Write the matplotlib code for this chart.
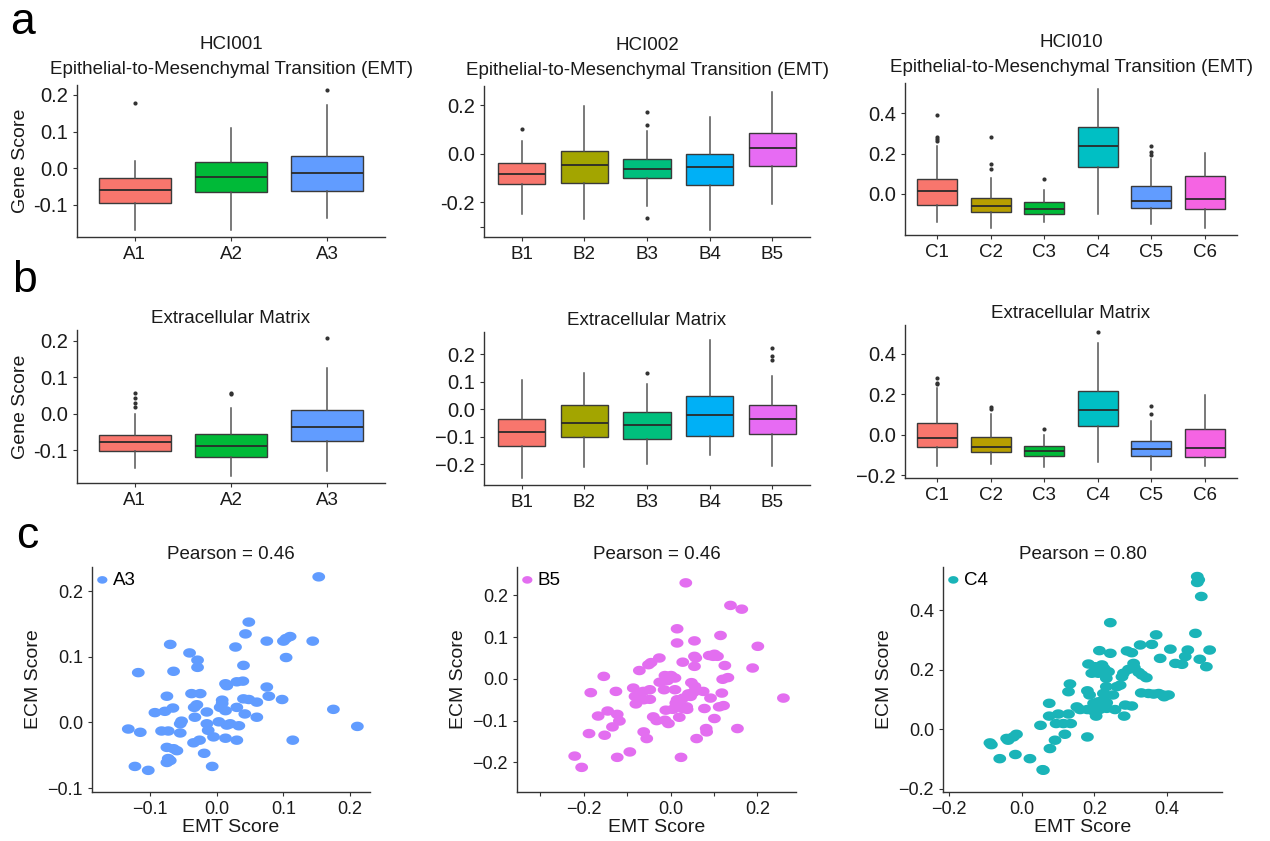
import numpy as np
import matplotlib
matplotlib.use("Agg")
import matplotlib.pyplot as plt

plt.rcParams['font.family'] = ['Liberation Sans', 'DejaVu Sans']

W, H = 1270, 841

# ---- box data: each row is [whisker low, q1, median, q3, whisker high] ----
emt_a_labels = ["A1", "A2", "A3"]
emt_a_box = [[-0.168, -0.094, -0.059, -0.027, 0.020],
             [-0.168, -0.065, -0.023, 0.016, 0.109],
             [-0.136, -0.062, -0.014, 0.034, 0.173]]
emt_a_out = [[0.177], [], [0.212]]

emt_b_labels = ["B1", "B2", "B3", "B4", "B5"]
emt_b_box = [[-0.247, -0.124, -0.083, -0.038, 0.053],
             [-0.266, -0.120, -0.045, 0.012, 0.197],
             [-0.216, -0.100, -0.063, -0.020, 0.094],
             [-0.314, -0.127, -0.055, 0.000, 0.153],
             [-0.205, -0.048, 0.023, 0.085, 0.253]]
emt_b_out = [[0.101], [], [0.173, 0.119, -0.264], [], []]

emt_c_labels = ["C1", "C2", "C3", "C4", "C5", "C6"]
emt_c_box = [[-0.137, -0.055, 0.015, 0.073, 0.235],
             [-0.170, -0.091, -0.058, -0.021, 0.078],
             [-0.137, -0.101, -0.074, -0.041, 0.020],
             [-0.099, 0.132, 0.238, 0.331, 0.519],
             [-0.150, -0.068, -0.035, 0.040, 0.174],
             [-0.167, -0.076, -0.025, 0.089, 0.205]]
emt_c_out = [[0.392, 0.284, 0.271, 0.260], [0.284, 0.149, 0.122], [0.073],
             [], [0.238, 0.207, 0.193], []]

ecm_a_box = [[-0.148, -0.101, -0.078, -0.057, 0.000],
             [-0.171, -0.119, -0.089, -0.055, 0.015],
             [-0.155, -0.074, -0.035, 0.011, 0.126]]
ecm_a_out = [[0.057, 0.044, 0.030, 0.018], [0.056, 0.054], [0.206]]

ecm_b_box = [[-0.252, -0.135, -0.082, -0.034, 0.105],
             [-0.212, -0.100, -0.052, 0.015, 0.133],
             [-0.200, -0.107, -0.058, -0.012, 0.091],
             [-0.168, -0.097, -0.022, 0.047, 0.253],
             [-0.206, -0.092, -0.034, 0.017, 0.120]]
ecm_b_out = [[], [], [0.133], [], [0.224, 0.193, 0.180]]

ecm_c_box = [[-0.156, -0.061, -0.016, 0.057, 0.230],
             [-0.143, -0.087, -0.061, -0.011, 0.103],
             [-0.161, -0.107, -0.082, -0.057, 0.000],
             [-0.134, 0.044, 0.123, 0.218, 0.451],
             [-0.175, -0.107, -0.070, -0.033, 0.070],
             [-0.156, -0.111, -0.066, 0.028, 0.197]]
ecm_c_out = [[0.282, 0.257, 0.249], [0.139, 0.126], [0.028], [0.505],
             [0.143, 0.102], []]

col3 = ["#F8766D", "#00BA38", "#619CFF"]
col5 = ["#F8766D", "#A3A500", "#00BF7D", "#00B0F6", "#E76BF3"]
col6 = ["#F8766D", "#B79F00", "#00BA38", "#00BFC4", "#619CFF", "#F564E3"]

# ---- scatter data (EMT score, ECM score) ----
a3_emt = [0.153, 0.048, 0.043, 0.075, 0.100, 0.110, 0.104, 0.144, -0.070, 0.028,
          -0.041, -0.029, -0.029, 0.040, 0.104, -0.118, -0.065, 0.013, 0.015, 0.030,
          0.039, 0.075, -0.075, -0.038, -0.025, 0.008, 0.040, 0.048, 0.060, 0.078,
          0.098, -0.093, -0.078, -0.066, -0.034, -0.030, -0.015, 0.005, 0.008, 0.013,
          0.030, 0.042, 0.060, 0.175, 0.211, -0.133, -0.115, -0.083, -0.073, -0.055,
          -0.053, -0.055, -0.033, -0.015, -0.013, 0.003, 0.015, 0.020, 0.033, -0.005,
          0.013, 0.030, 0.114, -0.035, -0.026, -0.075, -0.060, -0.065, -0.019, -0.073,
          -0.070, -0.075, -0.123, -0.103, -0.007]
a3_ecm = [0.222, 0.153, 0.135, 0.124, 0.124, 0.131, 0.128, 0.124, 0.119, 0.115,
          0.106, 0.095, 0.084, 0.087, 0.099, 0.076, 0.078, 0.059, 0.056, 0.062,
          0.063, 0.054, 0.040, 0.044, 0.044, 0.034, 0.036, 0.035, 0.031, 0.040,
          0.035, 0.015, 0.017, 0.022, 0.023, 0.027, 0.016, 0.023, 0.029, 0.018,
          0.023, 0.013, 0.008, 0.020, -0.006, -0.010, -0.015, -0.013, -0.013, -0.002,
          0.002, -0.016, 0.008, -0.002, -0.012, 0.001, -0.004, -0.002, -0.005, -0.022,
          -0.024, -0.027, -0.027, -0.031, -0.027, -0.038, -0.043, -0.040, -0.047, -0.055,
          -0.058, -0.061, -0.067, -0.073, -0.067]

b5_emt = [0.035, 0.138, 0.164, 0.015, 0.015, 0.055, 0.115, 0.201, -0.026, -0.045,
          -0.051, -0.072, 0.028, 0.055, 0.058, 0.055, 0.089, 0.101, 0.108, 0.098,
          0.125, 0.189, -0.154, -0.013, 0.001, 0.010, -0.025, -0.007, 0.120, 0.132,
          -0.184, -0.126, -0.086, -0.063, -0.048, -0.015, 0.010, 0.048, 0.056, 0.075,
          0.118, -0.080, -0.072, -0.062, -0.048, -0.082, 0.015, 0.029, 0.041, 0.046,
          0.052, 0.012, 0.022, 0.037, 0.092, 0.112, 0.122, -0.145, -0.167, -0.123,
          -0.118, -0.134, -0.040, -0.032, -0.013, -0.005, -0.011, 0.005, 0.020, 0.028,
          0.038, 0.078, 0.101, 0.154, -0.062, -0.055, 0.060, 0.082, 0.083, -0.188,
          -0.152, -0.094, -0.123, -0.221, -0.205, 0.024, 0.260]
b5_ecm = [0.230, 0.176, 0.167, 0.120, 0.086, 0.091, 0.104, 0.078, 0.050, 0.039,
          0.034, 0.020, 0.040, 0.054, 0.050, 0.030, 0.056, 0.059, 0.054, 0.054,
          0.032, 0.026, 0.006, 0.008, 0.008, 0.002, -0.008, -0.004, -0.001, 0.003,
          -0.033, -0.030, -0.022, -0.030, -0.026, -0.026, -0.026, -0.009, -0.018, -0.030,
          -0.034, -0.060, -0.038, -0.050, -0.049, -0.042, -0.050, -0.046, -0.036, -0.042,
          -0.033, -0.058, -0.061, -0.067, -0.046, -0.067, -0.064, -0.077, -0.089, -0.085,
          -0.101, -0.115, -0.091, -0.100, -0.099, -0.107, -0.075, -0.073, -0.092, -0.071,
          -0.073, -0.071, -0.095, -0.119, -0.127, -0.143, -0.143, -0.119, -0.127, -0.131,
          -0.135, -0.175, -0.188, -0.185, -0.212, -0.188, -0.046]

c4_emt = [0.483, 0.487, 0.483, 0.494, 0.244, 0.478, 0.370, 0.358, 0.326, 0.517,
          0.409, 0.290, 0.303, 0.214, 0.244, 0.457, 0.450, 0.490, 0.381, 0.423,
          0.441, 0.508, 0.184, 0.202, 0.221, 0.227, 0.239, 0.211, 0.193, 0.308,
          0.310, 0.294, 0.280, 0.322, 0.331, 0.343, 0.276, 0.233, 0.133, 0.129,
          0.233, 0.262, 0.271, 0.181, 0.187, 0.225, 0.251, 0.329, 0.349, 0.363,
          0.377, 0.388, 0.392, 0.404, 0.152, 0.161, 0.181, 0.198, 0.211, 0.225,
          0.234, 0.214, 0.198, 0.205, 0.234, 0.257, 0.285, 0.303, 0.282, 0.076,
          0.076, 0.101, 0.129, 0.095, 0.115, 0.135, 0.052, 0.119, 0.181, 0.092,
          0.078, -0.014, -0.023, -0.037, -0.041, -0.087, -0.083, -0.060, -0.017, 0.023,
          0.058, 0.060]
c4_ecm = [0.513, 0.502, 0.493, 0.446, 0.358, 0.322, 0.317, 0.285, 0.283, 0.266,
          0.269, 0.263, 0.257, 0.264, 0.255, 0.266, 0.244, 0.235, 0.238, 0.221,
          0.218, 0.210, 0.219, 0.210, 0.216, 0.204, 0.193, 0.188, 0.188, 0.221,
          0.207, 0.201, 0.188, 0.191, 0.182, 0.173, 0.176, 0.171, 0.152, 0.126,
          0.143, 0.143, 0.148, 0.129, 0.115, 0.120, 0.115, 0.122, 0.120, 0.118,
          0.120, 0.115, 0.109, 0.115, 0.075, 0.066, 0.066, 0.087, 0.092, 0.098,
          0.089, 0.066, 0.061, 0.044, 0.070, 0.066, 0.081, 0.078, 0.044, 0.087,
          0.044, 0.051, 0.051, 0.019, 0.019, 0.019, 0.013, -0.017, -0.026, -0.037,
          -0.065, -0.017, -0.026, -0.037, -0.031, -0.046, -0.052, -0.099, -0.085, -0.099,
          -0.136, -0.138]

TXT = "#1a1a1a"
SP = "#333333"


def make_ax(fig, x0, y0, x1, y1, tsize):
    ax = fig.add_axes([x0 / W, 1 - y1 / H, (x1 - x0) / W, (y1 - y0) / H])
    for s in ["top", "right"]:
        ax.spines[s].set_visible(False)
    for s in ["left", "bottom"]:
        ax.spines[s].set_color(SP)
        ax.spines[s].set_linewidth(1.0)
    ax.tick_params(colors=SP, labelcolor=TXT, labelsize=tsize, length=3, width=0.8)
    return ax


def draw_box(ax, labels, box, out, colors, ylim, yticks, yticklabels, title,
             ylabel=None, tpad=5):
    stats = []
    for lab, s, o in zip(labels, box, out):
        stats.append(dict(label=lab, whislo=s[0], q1=s[1], med=s[2], q3=s[3],
                          whishi=s[4], fliers=o))
    n = len(labels)
    bp = ax.bxp(stats, positions=range(1, n + 1), widths=0.75, patch_artist=True,
                showcaps=False,
                boxprops=dict(edgecolor="#3a3a3a", linewidth=1.0),
                medianprops=dict(color="#2a2a2a", linewidth=1.3),
                whiskerprops=dict(color="#555555", linewidth=1.1),
                flierprops=dict(marker="o", markersize=3, markerfacecolor="#333333",
                                markeredgecolor="none"))
    for patch, c in zip(bp["boxes"], colors):
        patch.set_facecolor(c)
    ax.set_xlim(0.4, n + 0.6)
    ax.set_ylim(*ylim)
    ax.set_yticks(yticks)
    ax.set_yticklabels(yticklabels, fontsize=14.5)
    ax.set_title(title, fontsize=13.5, color=TXT, pad=tpad, linespacing=1.6)
    if ylabel:
        ax.set_ylabel(ylabel, fontsize=14, color=TXT, labelpad=3)


t = np.linspace(0, 2 * np.pi, 40)
ell = np.column_stack([1.35 * np.cos(t), np.sin(t)])


def draw_scatter(ax, x, y, color, lab, xlim, ylim, xticks, xticklabels, yticks, title):
    ax.scatter(x, y, s=85, marker=ell, color=color, edgecolors="none", label=lab)
    ax.set_xlim(*xlim)
    ax.set_ylim(*ylim)
    ax.set_xticks(xticks)
    ax.set_xticklabels(xticklabels)
    ax.set_yticks(yticks)
    ax.set_title(title, fontsize=13.5, color=TXT, pad=6)
    ax.set_xlabel("EMT Score", fontsize=14, color=TXT, labelpad=1)
    ax.set_ylabel("ECM Score", fontsize=14, color=TXT, labelpad=4)
    ax.legend(loc="upper left", frameon=False, fontsize=13.5, handlelength=0.6,
              handletextpad=0.25, borderaxespad=0.0, borderpad=0.25, markerscale=0.8)


fig = plt.figure(figsize=(W / 100, H / 100), dpi=100)

emt = "Epithelial-to-Mesenchymal Transition (EMT)"
ax = make_ax(fig, 77, 85, 385, 237, 13.5)
draw_box(ax, emt_a_labels, emt_a_box, emt_a_out, col3, (-0.188, 0.227),
         [-0.1, 0.0, 0.1, 0.2], ["-0.1", "0.0", "0.1", "0.2"],
         "HCI001\n" + emt, "Gene Score", tpad=8)
ax = make_ax(fig, 484, 86, 810, 237, 13.5)
draw_box(ax, emt_b_labels, emt_b_box, emt_b_out, col5, (-0.342, 0.279),
         [-0.3, -0.2, 0.0, 0.2], ["", "-0.2", "0.0", "0.2"], "HCI002\n" + emt, tpad=8)
ax = make_ax(fig, 905, 83, 1237, 235, 13.5)
draw_box(ax, emt_c_labels, emt_c_box, emt_c_out, col6, (-0.203, 0.549),
         [0.0, 0.2, 0.4], ["0.0", "0.2", "0.4"], "HCI010\n" + emt, tpad=8)

ecm = "Extracellular Matrix"
ax = make_ax(fig, 77, 330, 385, 483, 13.5)
draw_box(ax, emt_a_labels, ecm_a_box, ecm_a_out, col3, (-0.189, 0.229),
         [-0.1, 0.0, 0.1, 0.2], ["-0.1", "0.0", "0.1", "0.2"], ecm, "Gene Score")
ax = make_ax(fig, 484, 332, 810, 485, 13.5)
draw_box(ax, emt_b_labels, ecm_b_box, ecm_b_out, col5, (-0.276, 0.281),
         [-0.2, -0.1, 0.0, 0.1, 0.2], ["\u22120.2", "\u22120.1", "0.0", "0.1", "0.2"], ecm)
ax = make_ax(fig, 905, 325, 1237, 478, 13.5)
draw_box(ax, emt_c_labels, ecm_c_box, ecm_c_out, col6, (-0.213, 0.541),
         [-0.2, 0.0, 0.2, 0.4], ["\u22120.2", "0.0", "0.2", "0.4"], ecm)

ax = make_ax(fig, 92, 567, 370, 792, 13)
draw_scatter(ax, a3_emt, a3_ecm, "#619CFF", "A3", (-0.1875, 0.23), (-0.106, 0.237),
             [-0.1, 0.0, 0.1, 0.2], ["\u22120.1", "0.0", "0.1", "0.2"],
             [-0.1, 0.0, 0.1, 0.2], "Pearson = 0.46")
ax = make_ax(fig, 517, 567, 796, 792, 13)
draw_scatter(ax, b5_emt, b5_ecm, "#E36EF0", "B5", (-0.354, 0.289), (-0.271, 0.268),
             [-0.3, -0.2, -0.1, 0.0, 0.1, 0.2], ["", "\u22120.2", "", "0.0", "", "0.2"],
             [-0.2, -0.1, 0.0, 0.1, 0.2], "Pearson = 0.46")
ax = make_ax(fig, 943, 567, 1222, 792, 13)
draw_scatter(ax, c4_emt, c4_ecm, "#1AB4B8", "C4", (-0.216, 0.551), (-0.211, 0.545),
             [-0.2, 0.0, 0.2, 0.4], ["\u22120.2", "0.0", "0.2", "0.4"],
             [-0.2, 0.0, 0.2, 0.4], "Pearson = 0.80")

for letter, x, y in [("a", 10, 34), ("b", 12, 292), ("c", 16, 548)]:
    fig.text(x / W, 1 - y / H, letter, fontsize=32, color="#000000")

fig.savefig("out.png", dpi=100)
